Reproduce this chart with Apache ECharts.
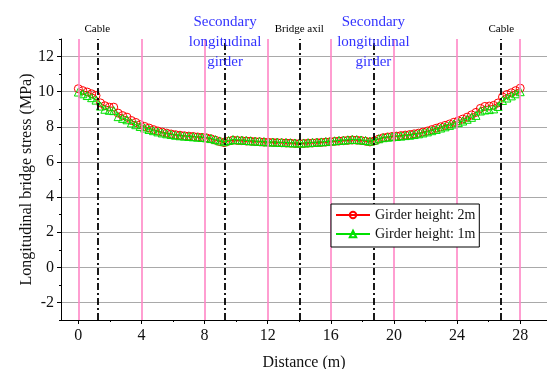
<!DOCTYPE html>
<html>
<head>
<meta charset="utf-8">
<script src="https://cdn.jsdelivr.net/npm/echarts@6/dist/echarts.min.js"></script>
<style>
  html, body { margin: 0; padding: 0; background: #fff; }
  #chart { width: 547px; height: 369px; }
</style>
</head>
<body>
<div id="chart"></div>
<script>
// Distance along the deck (m)
var distance = [
  0.00, 0.28, 0.56, 0.84, 1.12, 1.40, 1.68, 1.96, 2.24, 2.52,
  2.80, 3.08, 3.36, 3.64, 3.92, 4.20, 4.48, 4.76, 5.04, 5.32,
  5.60, 5.88, 6.16, 6.44, 6.72, 7.00, 7.28, 7.56, 7.84, 8.12,
  8.40, 8.68, 8.96, 9.24, 9.52, 9.80, 10.08, 10.36, 10.64, 10.92,
  11.20, 11.48, 11.76, 12.04, 12.32, 12.60, 12.88, 13.16, 13.44, 13.72,
  14.00, 14.28, 14.56, 14.84, 15.12, 15.40, 15.68, 15.96, 16.24, 16.52,
  16.80, 17.08, 17.36, 17.64, 17.92, 18.20, 18.48, 18.76, 19.04, 19.32,
  19.60, 19.88, 20.16, 20.44, 20.72, 21.00, 21.28, 21.56, 21.84, 22.12,
  22.40, 22.68, 22.96, 23.24, 23.52, 23.80, 24.08, 24.36, 24.64, 24.92,
  25.20, 25.48, 25.76, 26.04, 26.32, 26.60, 26.88, 27.16, 27.44, 27.72,
  28.00
];

// Longitudinal stress (MPa), girder height 2m
var stress2m = [
  10.17, 10.06, 9.98, 9.88, 9.78, 9.36, 9.20, 9.12, 9.12, 8.78,
  8.64, 8.55, 8.36, 8.25, 8.12, 8.02, 7.93, 7.84, 7.76, 7.70,
  7.64, 7.59, 7.55, 7.52, 7.49, 7.47, 7.45, 7.42, 7.40, 7.37,
  7.32, 7.24, 7.16, 7.10, 7.18, 7.24, 7.22, 7.21, 7.19, 7.18,
  7.16, 7.15, 7.13, 7.12, 7.11, 7.10, 7.09, 7.08, 7.07, 7.05,
  7.04, 7.05, 7.07, 7.08, 7.10, 7.11, 7.13, 7.15, 7.17, 7.19,
  7.21, 7.23, 7.25, 7.24, 7.22, 7.18, 7.14, 7.20, 7.30, 7.38,
  7.42, 7.45, 7.47, 7.50, 7.53, 7.56, 7.60, 7.64, 7.70, 7.76,
  7.84, 7.92, 8.00, 8.08, 8.16, 8.26, 8.34, 8.44, 8.55, 8.68,
  8.82, 9.05, 9.16, 9.18, 9.22, 9.36, 9.70, 9.84, 9.94, 10.06,
  10.20
];

// Longitudinal stress (MPa), girder height 1m
var stress1m = [
  9.98, 9.88, 9.78, 9.66, 9.52, 9.18, 9.00, 8.94, 8.92, 8.58,
  8.48, 8.40, 8.22, 8.12, 8.02, 7.93, 7.85, 7.78, 7.71, 7.65,
  7.60, 7.56, 7.52, 7.49, 7.47, 7.45, 7.43, 7.41, 7.39, 7.37,
  7.33, 7.27, 7.20, 7.15, 7.22, 7.27, 7.26, 7.24, 7.22, 7.20,
  7.18, 7.17, 7.15, 7.14, 7.13, 7.12, 7.11, 7.10, 7.09, 7.08,
  7.07, 7.08, 7.09, 7.11, 7.12, 7.14, 7.16, 7.18, 7.20, 7.22,
  7.24, 7.26, 7.28, 7.27, 7.25, 7.22, 7.18, 7.24, 7.32, 7.38,
  7.41, 7.43, 7.45, 7.47, 7.50, 7.52, 7.56, 7.60, 7.65, 7.71,
  7.78, 7.85, 7.93, 8.00, 8.08, 8.16, 8.24, 8.33, 8.43, 8.54,
  8.65, 8.90, 8.96, 8.98, 9.02, 9.16, 9.50, 9.64, 9.76, 9.88,
  10.00
];

// Axis ticks and labels
var xLabelTicks = [0, 4, 8, 12, 16, 20, 24, 28];
var xMinorTicks = [2, 6, 10, 14, 18, 22, 26];
var yLabelTicks = [-2, 0, 2, 4, 6, 8, 10, 12];

// Structural reference lines and their captions
var memberPositions = [1.2, 9.3, 14, 18.7, 26.8];
var memberNames = ['Cable', 'Secondary\nlongitudinal\ngirder', 'Bridge axil', 'Secondary\nlongitudinal\ngirder', 'Cable'];
var memberIsGirder = [false, true, false, true, false];

var seriesNames = ['Girder height: 2m', 'Girder height: 1m'];

var FONT = 'Liberation Serif';
var X_MIN = -1.1;
var X_MAX = 29.7;

function pairs(xs, ys) {
  return xs.map(function (x, i) { return [x, ys[i]]; });
}

function memberLines() {
  return memberPositions.map(function (x, i) {
    var girder = memberIsGirder[i];
    return {
      xAxis: x,
      label: {
        show: true,
        position: 'end',
        formatter: memberNames[i],
        color: girder ? '#3333ff' : '#000',
        fontFamily: FONT,
        fontSize: girder ? 15 : 11,
        lineHeight: girder ? 20 : 13,
        distance: girder ? -33 : 3
      }
    };
  });
}

var chart = echarts.init(document.getElementById('chart'));

var option = {
  animation: false,
  backgroundColor: '#fff',
  grid: { left: 61, right: 0, top: 39, bottom: 49, outerBoundsMode: 'none', containLabel: false },
  legend: {
    data: seriesNames,
    orient: 'vertical',
    left: 331,
    top: 204,
    itemWidth: 34,
    itemHeight: 8,
    itemGap: 5,
    padding: [4, 4, 6, 4],
    borderColor: '#000',
    borderWidth: 1,
    backgroundColor: '#fff',
    z: 10,
    textStyle: { fontFamily: FONT, fontSize: 14, color: '#111' }
  },
  xAxis: [
    {
      type: 'value',
      min: X_MIN,
      max: X_MAX,
      name: 'Distance (m)',
      nameLocation: 'middle',
      nameGap: 35,
      nameMoveOverlap: false,
      nameTextStyle: { fontFamily: FONT, fontSize: 16, color: '#111' },
      axisLine: { onZero: false, lineStyle: { color: '#000', width: 1 } },
      axisTick: { customValues: xLabelTicks, length: 4, lineStyle: { color: '#000' } },
      axisLabel: { customValues: xLabelTicks, margin: 8, fontFamily: FONT, fontSize: 16, color: '#111' },
      splitLine: { show: false }
    },
    {
      type: 'value',
      min: X_MIN,
      max: X_MAX,
      position: 'bottom',
      axisLine: { show: false, onZero: false },
      axisTick: { show: true, customValues: xMinorTicks, length: 2, lineStyle: { color: '#000' } },
      axisLabel: { show: false },
      splitLine: { show: false }
    }
  ],
  yAxis: [
    {
      type: 'value',
      min: -3,
      max: 13,
      name: 'Longitudinal bridge stress (MPa)',
      nameLocation: 'middle',
      nameGap: 26,
      nameMoveOverlap: false,
      nameTextStyle: { fontFamily: FONT, fontSize: 16, color: '#111' },
      axisLine: { show: true, onZero: false, lineStyle: { color: '#000', width: 1 } },
      axisTick: { show: true, customValues: yLabelTicks, length: 4, lineStyle: { color: '#000' } },
      axisLabel: { customValues: yLabelTicks, margin: 7, fontFamily: FONT, fontSize: 16, color: '#111' },
      // grey horizontal grid lines at the labelled values
      splitLine: { show: true, lineStyle: { color: '#a9a9a9', width: 1 } }
    },
    {
      type: 'value',
      min: -3,
      max: 13,
      interval: 1,
      position: 'left',
      axisLine: { show: false, onZero: false },
      axisTick: { show: true, length: 2, lineStyle: { color: '#000' } },
      axisLabel: { show: false },
      splitLine: { show: false }
    }
  ],
  series: [
    {
      // pink verticals
      type: 'line',
      data: [],
      z: 1,
      silent: true,
      markLine: {
        silent: true,
        symbol: 'none',
        label: { show: false },
        lineStyle: { color: '#ff86c6', width: 1.6, type: 'solid' },
        data: xLabelTicks.map(function (x) { return { xAxis: x }; })
      }
    },
    {
      // cables, secondary girders and bridge axis
      type: 'line',
      data: [],
      z: 2,
      silent: true,
      markLine: {
        silent: true,
        symbol: 'none',
        lineStyle: { color: '#000', width: 1.8, type: [7, 3, 2, 3] },
        data: memberLines()
      }
    },
    {
      name: seriesNames[0],
      type: 'line',
      data: pairs(distance, stress2m),
      z: 3,
      symbol: 'circle',
      symbolSize: 8,
      lineStyle: { color: '#ff0000', width: 1 },
      itemStyle: { color: 'rgba(255,255,255,0)', borderColor: '#ff0000', borderWidth: 1 }
    },
    {
      name: seriesNames[1],
      type: 'line',
      data: pairs(distance, stress1m),
      z: 4,
      symbol: 'triangle',
      symbolSize: 8,
      lineStyle: { color: '#00e000', width: 1 },
      itemStyle: { color: 'rgba(255,255,255,0)', borderColor: '#00e000', borderWidth: 1 }
    }
  ]
};

chart.setOption(option);
</script>
</body>
</html>
